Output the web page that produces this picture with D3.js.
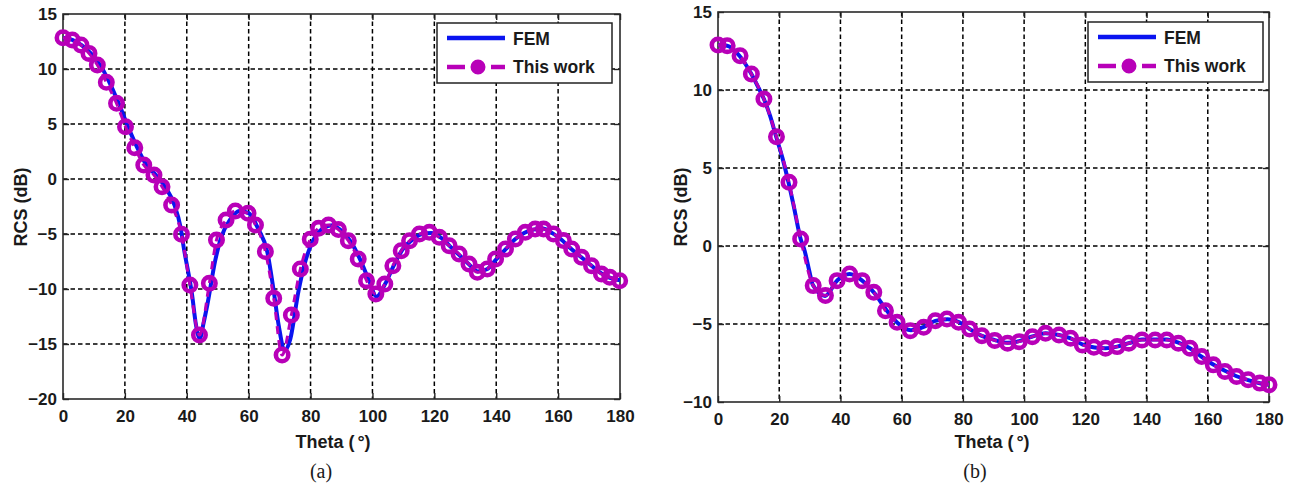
<!DOCTYPE html>
<html>
<head>
<meta charset="utf-8">
<script src="https://cdn.jsdelivr.net/npm/d3@7"></script>
<style>
body{margin:0;background:#fff}
svg text{font-family:Arial,"Liberation Sans",sans-serif;fill:#1a1a1a}
</style>
</head>
<body>
<svg id="chart" width="1303" height="490"></svg>
<script>
var thetaTicks = [0,20,40,60,80,100,120,140,160,180]
var rcsTicksA = [15,10,5,0,-5,-10,-15,-20]
var rcsTicksB = [15,10,5,0,-5,-10]
var legendLabels = ['FEM','This work']
var panelLabels = ['(a)','(b)']
var xTitle = 'Theta ('
var yTitle = 'RCS (dB)'

// panel (a)
var femThetaA = [0,3,6,9,12,15,18,21,24,27,30,33,36,38,39,41.7,43,44.2,45.5,46.6,49.2,51,54,57,60,63.2,66,68,69.7,71.6,73.4,76.1,78,81,84,87,90,93,96,99,101.3,104,107,110,113,116,119,122,125,128,131,134,137,140,143,146,149,152,155,158,161,164,167,170,173,176,180]
var femRcsA = [12.85,12.64,12.18,11.42,10.36,8.79,6.88,4.76,2.85,1.27,0.36,-0.7,-2.36,-4.4,-6.2,-10.5,-13.3,-14.5,-13.0,-11.5,-7.4,-5.4,-3.7,-2.9,-3.1,-4.6,-6.6,-10.0,-13.3,-15.6,-14.6,-10.2,-7.8,-5.5,-4.5,-4.2,-4.7,-5.7,-7.3,-9.3,-10.7,-9.6,-7.8,-6.3,-5.5,-5.0,-4.9,-5.3,-6.1,-6.9,-7.7,-8.4,-8.2,-7.3,-6.4,-5.5,-4.9,-4.6,-4.5,-4.9,-5.5,-6.3,-7.0,-7.7,-8.4,-8.9,-9.2]
var workThetaA = [0,3,5.8,8.4,11.1,14,17.3,20.2,23.2,26.1,29.4,32,35.1,38.3,41,44.1,47.3,49.6,52.7,55.7,59.8,62.2,65.4,68.1,70.8,73.8,76.7,79.9,82.6,85.8,89,92.2,95.4,98.1,101.1,104,106.6,109.3,112,115.2,118.4,121.6,124.8,128,131.2,133.9,137.1,139.8,143,146.2,149.4,152.6,155.3,158.5,161.7,164.4,167.6,170.8,174,176.7,179.9]
var workRcsA = [12.85,12.64,12.18,11.42,10.36,8.79,6.88,4.76,2.85,1.27,0.36,-0.7,-2.36,-5.03,-9.64,-14.18,-9.48,-5.55,-3.73,-2.91,-3.12,-4.18,-6.6,-10.85,-16.0,-12.36,-8.18,-5.48,-4.48,-4.18,-4.6,-5.61,-7.27,-9.24,-10.45,-9.55,-7.88,-6.52,-5.61,-5.0,-4.85,-5.3,-6.06,-6.82,-7.73,-8.48,-8.18,-7.27,-6.36,-5.45,-4.85,-4.55,-4.55,-5.0,-5.6,-6.36,-7.12,-7.88,-8.64,-8.94,-9.24]

// panel (b)
var femThetaB = [0,3,7,11,13.7,15,17,19,21,23,24.6,27,28.3,29.8,31,35,39,43,47,51,55,58.5,63,67,71,75,79,82,86,90,94.6,98.4,102.7,107,111.4,115,119,123,126.6,130.4,134.2,138.5,142.8,146.6,150.4,154.2,158,161.8,165.6,169.4,173.2,177,180]
var femRcsB = [12.88,12.84,12.2,11.0,9.96,9.42,8.35,7.0,5.68,4.1,2.69,0.45,-0.3,-1.58,-2.5,-3.2,-2.2,-1.8,-2.2,-3.0,-4.1,-4.9,-5.4,-5.2,-4.8,-4.7,-4.9,-5.3,-5.75,-6.0,-6.2,-6.1,-5.8,-5.6,-5.7,-5.9,-6.3,-6.5,-6.55,-6.45,-6.23,-6.0,-6.0,-6.0,-6.2,-6.55,-7.1,-7.6,-8.0,-8.35,-8.6,-8.8,-8.9]
var workThetaB = [0,3,7.2,10.9,15,19.1,23.2,27,31.1,35.1,38.9,43,47.1,50.9,54.7,58.5,62.8,67.2,71,74.8,78.6,82.2,86.2,90.4,94.6,98.4,102.7,107,111.4,115.2,119,122.8,126.6,130.4,134.2,138.5,142.8,146.6,150.4,154.2,158,161.8,165.6,169.4,173.2,177,180]
var workRcsB = [12.88,12.84,12.2,11.03,9.42,7.0,4.08,0.45,-2.54,-3.18,-2.22,-1.79,-2.22,-2.97,-4.15,-4.89,-5.43,-5.21,-4.79,-4.68,-4.89,-5.32,-5.75,-6.05,-6.23,-6.13,-5.81,-5.6,-5.7,-5.91,-6.34,-6.49,-6.55,-6.45,-6.23,-6.02,-6.02,-6.02,-6.23,-6.55,-7.09,-7.62,-8.04,-8.36,-8.57,-8.79,-8.89]

var blue = '#0a14f0'
var magenta = '#b800b8'

var svg = d3.select('#chart')

function drawPanel(p){
    var x = d3.scaleLinear().domain([0,180]).range([p.left,p.right])
    var y = d3.scaleLinear().domain([p.yTicks[p.yTicks.length-1],p.yTicks[0]]).range([p.bottom,p.top])
    var g = svg.append('g')

    g.append('clipPath').attr('id','clip'+p.id)
        .append('rect')
        .attr('x',p.left-10).attr('y',p.top)
        .attr('width',p.right-p.left+20).attr('height',p.bottom-p.top)

    // grid
    g.selectAll('line.vgrid')
        .data(thetaTicks.slice(1,-1))
        .enter().append('line')
        .attr('class','vgrid')
        .attr('x1',function(d){return x(d)}).attr('x2',function(d){return x(d)})
        .attr('y1',p.top).attr('y2',p.bottom)
        .attr('stroke','#000').attr('stroke-width',1.5)
        .attr('stroke-dasharray','4.5,3')
    g.selectAll('line.hgrid')
        .data(p.yTicks.slice(1,-1))
        .enter().append('line')
        .attr('class','hgrid')
        .attr('y1',function(d){return y(d)}).attr('y2',function(d){return y(d)})
        .attr('x1',p.left).attr('x2',p.right)
        .attr('stroke','#000').attr('stroke-width',1.5)
        .attr('stroke-dasharray','4.5,3')

    // axes, ticks pointing inward
    var fmt = function(d){return d<0 ? '\u2212'+(-d) : d}
    var axB = g.append('g').attr('transform','translate(0,'+p.bottom+')')
        .call(d3.axisBottom(x).tickValues(thetaTicks).tickSize(-6).tickPadding(11).tickFormat(fmt))
    var axL = g.append('g').attr('transform','translate('+p.left+',0)')
        .call(d3.axisLeft(y).tickValues(p.yTicks).tickSize(-6).tickPadding(6).tickFormat(fmt))
    var axT = g.append('g').attr('transform','translate(0,'+p.top+')')
        .call(d3.axisTop(x).tickValues(thetaTicks).tickSize(-6).tickFormat(''))
    var axR = g.append('g').attr('transform','translate('+p.right+',0)')
        .call(d3.axisRight(y).tickValues(p.yTicks).tickSize(-6).tickFormat(''))
    ;[axB,axL,axT,axR].forEach(function(a){
        a.select('.domain').remove()
        a.selectAll('line').attr('stroke','#222').attr('stroke-width',1.4)
        a.selectAll('text')
            .attr('fill','#1a1a1a')
            .style('font-size','17px')
            .style('font-weight','bold')
    })

    g.append('rect')
        .attr('x',p.left).attr('y',p.top)
        .attr('width',p.right-p.left).attr('height',p.bottom-p.top)
        .attr('fill','none').attr('stroke','#2a2a2a').attr('stroke-width',1.6)

    // series
    var fem = p.femTheta.map(function(t,i){return [t,p.femRcs[i]]})
    var work = p.workTheta.map(function(t,i){return [t,p.workRcs[i]]})
    var line = d3.line()
        .x(function(d){return x(d[0])})
        .y(function(d){return y(d[1])})
        .curve(d3.curveMonotoneX)
    var plot = g.append('g').attr('clip-path','url(#clip'+p.id+')')
    plot.append('path')
        .datum(fem)
        .attr('d',line)
        .attr('fill','none').attr('stroke',blue).attr('stroke-width',4)
    plot.append('path')
        .datum(work)
        .attr('d',line)
        .attr('fill','none').attr('stroke',magenta).attr('stroke-width',3)
        .attr('stroke-dasharray','8,6')
    plot.selectAll('circle')
        .data(work)
        .enter().append('circle')
        .attr('cx',function(d){return x(d[0])})
        .attr('cy',function(d){return y(d[1])})
        .attr('r',6.2)
        .attr('fill','none').attr('stroke',magenta).attr('stroke-width',4.6)

    // legend
    var lg = g.append('g').attr('transform','translate('+p.legX+','+p.legY+')')
    lg.append('rect')
        .attr('width',175).attr('height',60)
        .attr('fill','#fff').attr('stroke','#222').attr('stroke-width',1.5)
    lg.append('line')
        .attr('x1',10).attr('x2',68).attr('y1',15).attr('y2',15)
        .attr('stroke',blue).attr('stroke-width',4.5)
    lg.append('line')
        .attr('x1',10).attr('x2',28).attr('y1',44).attr('y2',44)
        .attr('stroke',magenta).attr('stroke-width',4.5)
    lg.append('line')
        .attr('x1',54).attr('x2',68).attr('y1',44).attr('y2',44)
        .attr('stroke',magenta).attr('stroke-width',4.5)
    lg.append('circle')
        .attr('cx',41).attr('cy',44).attr('r',5.5)
        .attr('fill',magenta).attr('stroke',magenta).attr('stroke-width',4)
    lg.selectAll('text.leg')
        .data(legendLabels)
        .enter().append('text')
        .attr('class','leg')
        .attr('x',76)
        .attr('y',function(d,i){return 22+i*28})
        .style('font-size','17.5px')
        .style('font-weight','bold')
        .text(function(d){return d})

    // titles
    g.append('text')
        .attr('transform','translate('+p.yTitleX+',207) rotate(-90)')
        .attr('text-anchor','middle')
        .style('font-size','18px').style('font-weight','bold')
        .text(yTitle)
    var xt = g.append('text')
        .attr('x',p.xTitleX).attr('y',448)
        .attr('text-anchor','middle')
        .style('font-size','18px').style('font-weight','bold')
    xt.append('tspan').text(xTitle)
    xt.append('tspan').attr('dx',3).text('\u00b0')
    xt.append('tspan').text(')')
    g.append('text')
        .attr('x',p.capX).attr('y',478)
        .attr('text-anchor','middle')
        .style('font-family','"Times New Roman","Liberation Serif",serif')
        .style('font-size','20px')
        .text(p.caption)
}

drawPanel({id:'a',left:63,right:620,top:14,bottom:399,yTicks:rcsTicksA,
    femTheta:femThetaA,femRcs:femRcsA,workTheta:workThetaA,workRcs:workRcsA,
    legX:437,legY:23,yTitleX:27,xTitleX:333,capX:321,caption:panelLabels[0]})
drawPanel({id:'b',left:718,right:1269,top:12,bottom:402,yTicks:rcsTicksB,
    femTheta:femThetaB,femRcs:femRcsB,workTheta:workThetaB,workRcs:workRcsB,
    legX:1088,legY:22,yTitleX:687,xTitleX:992,capX:975,caption:panelLabels[1]})
</script>
</body>
</html>
